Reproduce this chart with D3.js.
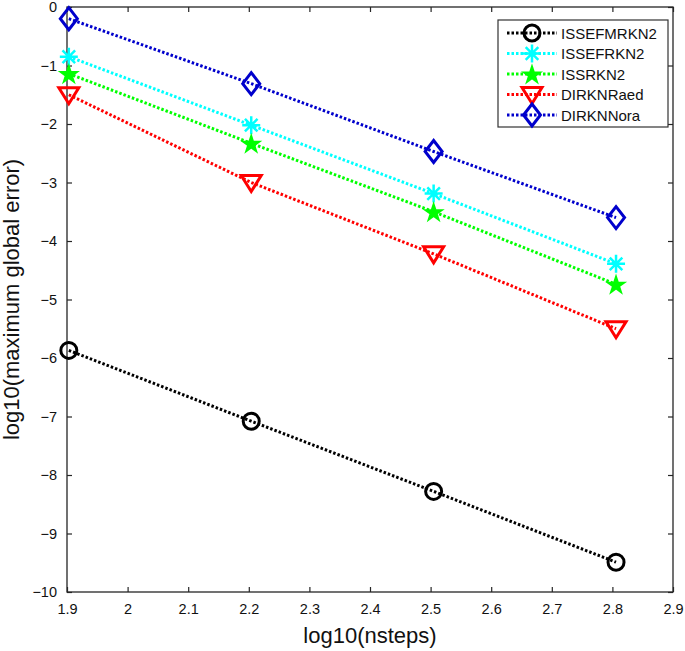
<!DOCTYPE html>
<html>
<head>
<meta charset="utf-8">
<script src="https://cdn.jsdelivr.net/npm/d3@7"></script>
<style>
  body { margin: 0; background: #fff; }
  text { font-family: "Liberation Sans", Arial, sans-serif; }
</style>
</head>
<body>
<div id="chart"></div>
<script>
// data
let steps = [1.903, 2.204, 2.505, 2.806];
let seriesNames = ["ISSEFMRKN2", "ISSEFRKN2", "ISSRKN2", "DIRKNRaed", "DIRKNNora"];
let issefmrkn2 = [-5.87, -7.08, -8.28, -9.49];
let issefrkn2 = [-0.85, -2.02, -3.19, -4.39];
let issrkn2 = [-1.14, -2.33, -3.50, -4.74];
let dirknRaed = [-1.50, -3.00, -4.22, -5.50];
let dirknNora = [-0.20, -1.31, -2.47, -3.60];
let xTicks = [1.9, 2, 2.1, 2.2, 2.3, 2.4, 2.5, 2.6, 2.7, 2.8, 2.9];
let yTicks = [0, -1, -2, -3, -4, -5, -6, -7, -8, -9, -10];

let colors = ["#000000", "#00ffff", "#00ff00", "#ff0000", "#0000cc"];
let markers = ["circle", "asterisk", "star", "triangle", "diamond"];
let values = [issefmrkn2, issefrkn2, issrkn2, dirknRaed, dirknNora];

let margin = { top: 7, right: 12, bottom: 59, left: 67 };
let W = 685, H = 651;
let width = W - margin.left - margin.right;
let height = H - margin.top - margin.bottom;

let svg = d3
  .select("#chart")
  .append("svg")
  .attr("width", W)
  .attr("height", H);

let g = svg.append("g")
  .attr("transform", "translate(" + margin.left + "," + margin.top + ")");

let x = d3.scaleLinear().domain([1.9, 2.9]).range([0, width]);
let y = d3.scaleLinear().domain([-10, 0]).range([height, 0]);

// axes, ticks pointing inward
let axisStyle = (sel) => {
  sel.select(".domain").remove();
  sel.selectAll("line").attr("stroke", "#262626").attr("stroke-width", 1.2);
  sel.selectAll("text").attr("fill", "#111").style("font-size", "14.5px");
};

g.append("g")
  .attr("transform", "translate(0," + height + ")")
  .call(d3.axisBottom(x).tickValues(xTicks).tickFormat(d3.format("")).tickSize(-5).tickPadding(12))
  .call(axisStyle);

g.append("g")
  .call(d3.axisTop(x).tickValues(xTicks).tickFormat("").tickSize(-5))
  .call(axisStyle);

g.append("g")
  .call(d3.axisLeft(y).tickValues(yTicks).tickFormat(d3.format("")).tickSize(-5).tickPadding(10))
  .call(axisStyle);

g.append("g")
  .attr("transform", "translate(" + width + ",0)")
  .call(d3.axisRight(y).tickValues(yTicks).tickFormat("").tickSize(-5))
  .call(axisStyle);

g.append("rect")
  .attr("width", width)
  .attr("height", height)
  .attr("fill", "none")
  .attr("stroke", "#262626")
  .attr("stroke-width", 1.3);

// axis labels
svg.append("text")
  .attr("x", margin.left + width / 2)
  .attr("y", 643)
  .attr("text-anchor", "middle")
  .style("font-size", "22px")
  .attr("fill", "#111")
  .text("log10(nsteps)");

svg.append("text")
  .attr("transform", "translate(19," + (margin.top + height / 2) + ") rotate(-90)")
  .attr("text-anchor", "middle")
  .style("font-size", "22px")
  .attr("fill", "#111")
  .text("log10(maximum global error)");

// marker drawing
function drawMarker(sel, type, color) {
  if (type === "circle") {
    sel.append("circle").attr("r", 8).attr("fill", "none")
      .attr("stroke", color).attr("stroke-width", 3);
  } else if (type === "asterisk") {
    let r = 9;
    let d = "M" + -r + ",0L" + r + ",0M0," + -r + "L0," + r +
      "M" + -r * 0.7 + "," + -r * 0.7 + "L" + r * 0.7 + "," + r * 0.7 +
      "M" + -r * 0.7 + "," + r * 0.7 + "L" + r * 0.7 + "," + -r * 0.7;
    sel.append("path").attr("d", d).attr("stroke", color).attr("stroke-width", 2.5);
  } else if (type === "star") {
    sel.append("path")
      .attr("d", d3.symbol(d3.symbolStar, 80)())
      .attr("transform", "translate(0,1)")
      .attr("fill", color).attr("stroke", color).attr("stroke-width", 2);
  } else if (type === "triangle") {
    sel.append("path").attr("d", "M-10,-7L10,-7L0,9Z").attr("fill", "none")
      .attr("stroke", color).attr("stroke-width", 3).attr("stroke-linejoin", "miter");
  } else if (type === "diamond") {
    sel.append("path").attr("d", "M0,-11L8.5,0L0,11L-8.5,0Z").attr("fill", "none")
      .attr("stroke", color).attr("stroke-width", 3);
  }
}

let line = d3.line().x((d, i) => x(steps[i])).y((d) => y(d));

values.forEach((vals, k) => {
  g.append("path")
    .datum(vals)
    .attr("d", line)
    .attr("fill", "none")
    .attr("stroke", colors[k])
    .attr("stroke-width", 3)
    .attr("stroke-dasharray", "2.5,2");

  g.selectAll(".m" + k)
    .data(vals)
    .enter()
    .append("g")
    .attr("class", "m" + k)
    .attr("transform", (d, i) => "translate(" + x(steps[i]) + "," + y(d) + ")")
    .each(function () { drawMarker(d3.select(this), markers[k], colors[k]); });
});

// legend
let legend = svg.append("g").attr("transform", "translate(498,20)");
legend.append("rect")
  .attr("width", 170)
  .attr("height", 107)
  .attr("fill", "#fff")
  .attr("stroke", "#333")
  .attr("stroke-width", 1.2);

seriesNames.forEach((name, k) => {
  let row = legend.append("g").attr("transform", "translate(0," + (13 + k * 20.5) + ")");
  row.append("line")
    .attr("x1", 9).attr("x2", 59)
    .attr("stroke", colors[k])
    .attr("stroke-width", 3)
    .attr("stroke-dasharray", "2.5,2");
  row.append("g").attr("transform", "translate(34,0)")
    .call((s) => drawMarker(s, markers[k], colors[k]));
  row.append("text")
    .attr("x", 63)
    .attr("y", 5.5)
    .style("font-size", "15px")
    .attr("fill", "#111")
    .text(name);
});
</script>
</body>
</html>
